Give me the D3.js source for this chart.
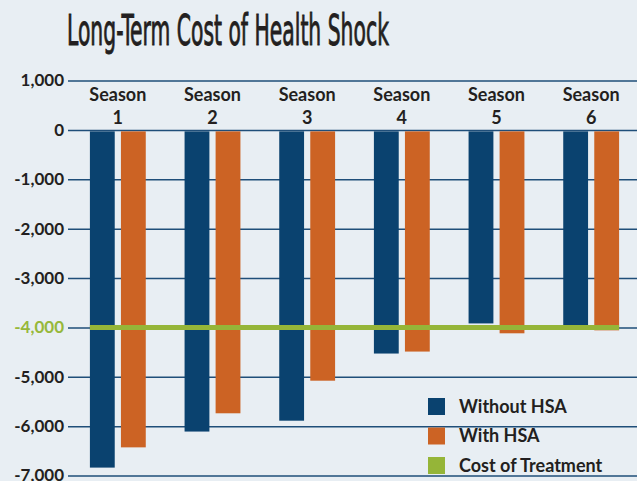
<!DOCTYPE html>
<html>
<head>
<meta charset="utf-8">
<script src="https://cdnjs.cloudflare.com/ajax/libs/d3/7.8.5/d3.min.js"></script>
<style>
  body { margin: 0; background: #e8eef3; }
  svg { display: block; }
  .tick-label { font-family: Lato, "DejaVu Sans", sans-serif; font-weight: bold; font-size: 17px; fill: #231f20; }
  .season { font-family: Lato, "DejaVu Sans", sans-serif; font-weight: bold; font-size: 18px; fill: #231f20; }
  .legend-text { font-family: Lato, "DejaVu Sans", sans-serif; font-weight: bold; font-size: 18px; fill: #231f20; }
</style>
</head>
<body>
<div id="chart"></div>
<script>
const seasons = ['Season 1', 'Season 2', 'Season 3', 'Season 4', 'Season 5', 'Season 6']
const series = ['Without HSA', 'With HSA']
const withoutHSA = [-6840, -6110, -5890, -4530, -3920, -3990]
const withHSA = [-6430, -5740, -5080, -4490, -4120, -4060]
const costOfTreatment = -4000
const yTicks = [1000, 0, -1000, -2000, -3000, -4000, -5000, -6000, -7000]
const colors = { 'Without HSA': '#0a426f', 'With HSA': '#cc6324', 'Cost of Treatment': '#95b538' }

const w = 637
const h = 481
const svg = d3.select('#chart').append('svg')
       .attr('width', w)
       .attr('height', h)

svg.append('rect').attr('width', w).attr('height', h).attr('fill', '#e8eef3')

// title (squeezed horizontally to look like a condensed face)
const title = svg.append('text')
       .text('Long-Term Cost of Health Shock')
       .attr('x', 0)
       .attr('y', 0)
       .style('font-family', '"DejaVu Sans Condensed", "Liberation Sans Narrow", sans-serif')
       .style('font-size', '42px')
       .style('fill', '#231f20')
       .style('stroke', '#231f20')
       .style('stroke-width', 0.9)
const titleW = title.node().getComputedTextLength()
title.attr('transform', 'translate(67,45) scale(' + (322 / titleW) + ',1)')

const yScale = d3.scaleLinear()
       .domain([1000, -7000])
       .range([80.5, 475.5])

const x0 = d3.scaleBand()
       .domain(seasons)
       .range([70.5, 638.5])
       .paddingInner(0.41)
       .paddingOuter(0.205)

const x1 = d3.scaleBand()
       .domain(series)
       .range([0, x0.bandwidth()])
       .paddingInner(0.2)

// gridlines + y axis
const yAxis = d3.axisLeft(yScale)
       .tickValues(yTicks)
       .tickSize(-(w - 68))
       .tickFormat(d => d3.format(',')(d).replace('\u2212', '-'))

const gy = svg.append('g')
       .attr('transform', 'translate(68,0)')
       .call(yAxis)
gy.select('.domain').remove()
gy.selectAll('.tick line').attr('stroke', '#1f4e79').attr('stroke-width', 1.5)
gy.selectAll('.tick text')
       .attr('x', -4)
       .attr('class', 'tick-label')
       .style('fill', d => d === costOfTreatment ? '#97b83a' : '#231f20')
       .attr('font-family', null)
       .attr('font-size', null)

// season labels
const seasonG = svg.append('g')
seasons.forEach(s => {
       const parts = s.split(' ')
       const cx = x0(s) + x0.bandwidth() / 2
       const t = seasonG.append('text').attr('class', 'season').attr('text-anchor', 'middle')
       t.append('tspan').attr('x', cx).attr('y', 101).text(parts[0])
       t.append('tspan').attr('x', cx).attr('y', 124).text(parts[1])
})

// bars
const rows = seasons.map((s, i) => ({ season: s, values: [
       { key: 'Without HSA', value: withoutHSA[i] },
       { key: 'With HSA', value: withHSA[i] }
]}))

svg.append('g').selectAll('g')
       .data(rows)
       .enter()
       .append('g')
       .attr('transform', d => 'translate(' + x0(d.season) + ',0)')
       .selectAll('rect')
       .data(d => d.values)
       .enter()
       .append('rect')
       .attr('x', d => x1(d.key))
       .attr('y', d => yScale(0) + 1.5)
       .attr('width', x1.bandwidth())
       .attr('height', d => yScale(d.value) - yScale(0) - 1.5)
       .attr('fill', d => colors[d.key])

// cost of treatment line
svg.append('line')
       .attr('x1', x0(seasons[0]))
       .attr('x2', x0(seasons[seasons.length - 1]) + x0.bandwidth())
       .attr('y1', yScale(costOfTreatment))
       .attr('y2', yScale(costOfTreatment))
       .attr('stroke', colors['Cost of Treatment'])
       .attr('stroke-width', 5)

// legend
const legendItems = ['Without HSA', 'With HSA', 'Cost of Treatment']
const legend = svg.append('g').attr('transform', 'translate(428,398)')
legendItems.forEach((k, i) => {
       legend.append('rect')
              .attr('x', 0)
              .attr('y', i * 29.5)
              .attr('width', 17)
              .attr('height', 17)
              .attr('fill', colors[k])
       legend.append('text')
              .attr('class', 'legend-text')
              .attr('x', 31)
              .attr('y', i * 29.5 + 14.5)
              .text(k)
})
</script>
</body>
</html>
